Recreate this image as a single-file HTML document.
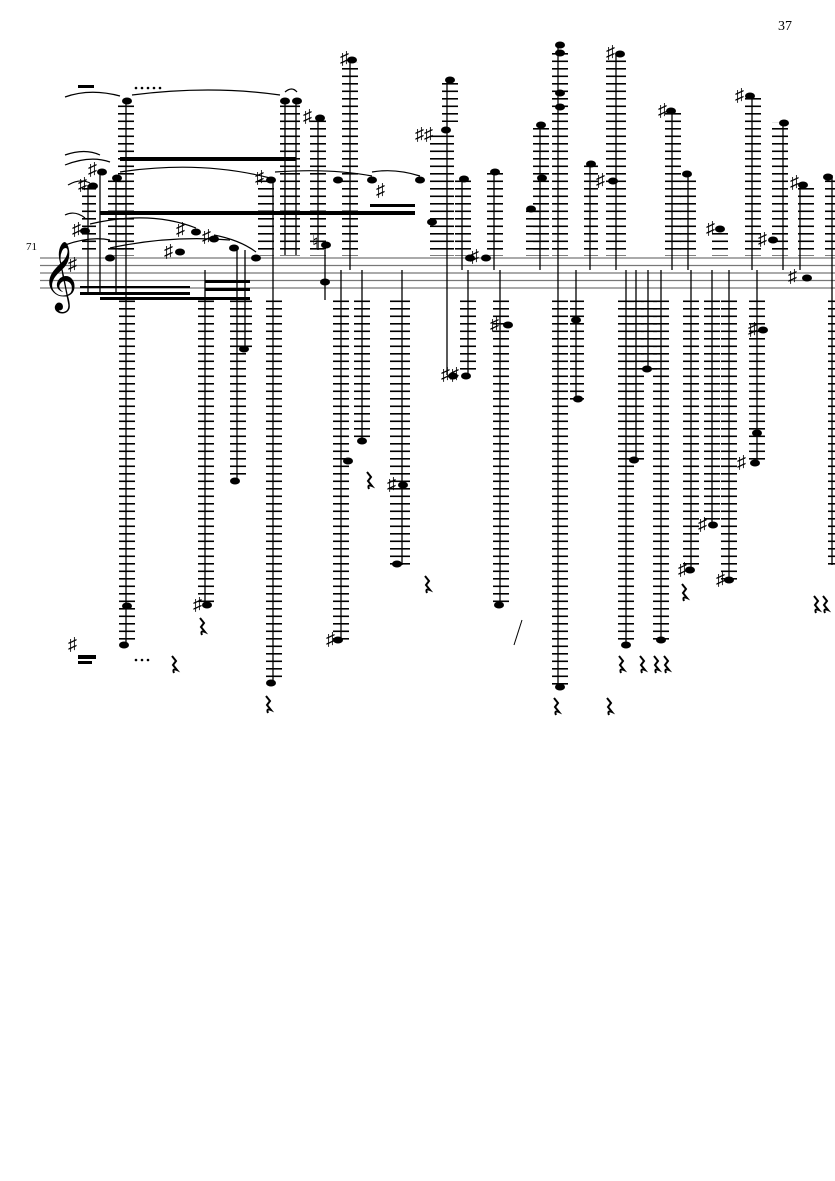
<!DOCTYPE html>
<html><head><meta charset="utf-8"><style>
html,body{margin:0;padding:0;background:#fff}
svg{display:block}
text{font-family:"Liberation Serif","DejaVu Serif",serif}
</style></head><body>
<svg width="835" height="1181" viewBox="0 0 835 1181" xmlns="http://www.w3.org/2000/svg">
<defs>
<pattern id="L" x="0" y="0.5" width="20" height="7.5" patternUnits="userSpaceOnUse">
<rect x="0" y="0" width="20" height="1.6" fill="#000"/>
</pattern>
<g id="R"><path d="M0 0 L4 5 L1 9 L5 14 Q0 12 2 17" fill="none" stroke="#000" stroke-width="2"/></g>
</defs>
<text x="778" y="30" font-size="14">37</text>
<text x="26" y="250" font-size="11">71</text>
<g stroke="#777" stroke-width="1.3">
<line x1="40" y1="258" x2="835" y2="258"/><line x1="40" y1="265.5" x2="835" y2="265.5"/>
<line x1="40" y1="273" x2="835" y2="273"/><line x1="40" y1="280.5" x2="835" y2="280.5"/>
<line x1="40" y1="288" x2="835" y2="288"/>
</g>
<text x="42" y="296" font-size="60">𝄞</text>
<g fill="url(#L)">
<rect x="118" y="103" width="16" height="153"/>
<rect x="82" y="185" width="14" height="70"/>
<rect x="108" y="178" width="16" height="78"/>
<rect x="280" y="103" width="20" height="153"/>
<rect x="310" y="120" width="16" height="136"/>
<rect x="258" y="180" width="16" height="76"/>
<rect x="342" y="62" width="16" height="194"/>
<rect x="430" y="135" width="24" height="121"/>
<rect x="442" y="82" width="16" height="40"/>
<rect x="455" y="180" width="16" height="76"/>
<rect x="487" y="172" width="16" height="84"/>
<rect x="526" y="210" width="14" height="46"/>
<rect x="533" y="125" width="16" height="131"/>
<rect x="552" y="48" width="16" height="208"/>
<rect x="584" y="165" width="14" height="91"/>
<rect x="606" y="55" width="20" height="201"/>
<rect x="665" y="112" width="16" height="144"/>
<rect x="680" y="175" width="16" height="81"/>
<rect x="712" y="230" width="16" height="26"/>
<rect x="745" y="97" width="16" height="159"/>
<rect x="772" y="122" width="16" height="134"/>
<rect x="798" y="185" width="16" height="71"/>
<rect x="825" y="175" width="12" height="81"/>
<rect x="119" y="295" width="16" height="350"/>
<rect x="198" y="295" width="16" height="310"/>
<rect x="230" y="295" width="16" height="185"/>
<rect x="238" y="295" width="14" height="55"/>
<rect x="266" y="295" width="16" height="388"/>
<rect x="333" y="295" width="16" height="345"/>
<rect x="354" y="295" width="16" height="147"/>
<rect x="390" y="295" width="20" height="272"/>
<rect x="460" y="295" width="16" height="80"/>
<rect x="493" y="295" width="16" height="310"/>
<rect x="552" y="295" width="16" height="392"/>
<rect x="570" y="295" width="14" height="105"/>
<rect x="618" y="295" width="16" height="350"/>
<rect x="628" y="295" width="16" height="165"/>
<rect x="641" y="295" width="16" height="75"/>
<rect x="653" y="295" width="16" height="345"/>
<rect x="683" y="295" width="16" height="275"/>
<rect x="704" y="295" width="16" height="230"/>
<rect x="721" y="295" width="16" height="285"/>
<rect x="749" y="295" width="16" height="170"/>
<rect x="828" y="295" width="10" height="270"/>
</g>
<g stroke="#000" stroke-width="1.3">
<line x1="126" y1="100" x2="126" y2="645"/>
<line x1="88" y1="185" x2="88" y2="295"/>
<line x1="100" y1="175" x2="100" y2="295"/>
<line x1="116" y1="178" x2="116" y2="295"/>
<line x1="205" y1="270" x2="205" y2="605"/>
<line x1="237" y1="250" x2="237" y2="480"/>
<line x1="245" y1="250" x2="245" y2="350"/>
<line x1="273" y1="180" x2="273" y2="683"/>
<line x1="285" y1="100" x2="285" y2="255"/>
<line x1="296" y1="100" x2="296" y2="255"/>
<line x1="318" y1="120" x2="318" y2="250"/>
<line x1="325" y1="250" x2="325" y2="300"/>
<line x1="341" y1="270" x2="341" y2="640"/>
<line x1="350" y1="62" x2="350" y2="270"/>
<line x1="362" y1="270" x2="362" y2="440"/>
<line x1="402" y1="270" x2="402" y2="565"/>
<line x1="447" y1="82" x2="447" y2="375"/>
<line x1="462" y1="180" x2="462" y2="270"/>
<line x1="468" y1="270" x2="468" y2="375"/>
<line x1="494" y1="172" x2="494" y2="270"/>
<line x1="500" y1="270" x2="500" y2="605"/>
<line x1="540" y1="125" x2="540" y2="270"/>
<line x1="558" y1="45" x2="558" y2="688"/>
<line x1="576" y1="270" x2="576" y2="400"/>
<line x1="590" y1="165" x2="590" y2="270"/>
<line x1="616" y1="55" x2="616" y2="270"/>
<line x1="626" y1="270" x2="626" y2="645"/>
<line x1="636" y1="270" x2="636" y2="460"/>
<line x1="648" y1="270" x2="648" y2="370"/>
<line x1="661" y1="270" x2="661" y2="640"/>
<line x1="672" y1="112" x2="672" y2="270"/>
<line x1="688" y1="175" x2="688" y2="270"/>
<line x1="691" y1="270" x2="691" y2="570"/>
<line x1="712" y1="270" x2="712" y2="525"/>
<line x1="729" y1="270" x2="729" y2="580"/>
<line x1="752" y1="97" x2="752" y2="270"/>
<line x1="757" y1="270" x2="757" y2="465"/>
<line x1="783" y1="122" x2="783" y2="270"/>
<line x1="800" y1="185" x2="800" y2="270"/>
<line x1="832" y1="175" x2="832" y2="565"/>
</g>
<g fill="#000">
<rect x="120" y="157" width="176" height="4"/>
<rect x="100" y="211" width="315" height="4"/>
<rect x="370" y="204" width="45" height="3"/>
<rect x="80" y="292" width="110" height="3"/>
<rect x="80" y="286" width="110" height="2"/>
<rect x="100" y="297" width="150" height="3"/>
<rect x="205" y="280" width="45" height="3"/>
<rect x="205" y="288" width="45" height="3"/>
</g>
<g fill="#000">
<ellipse cx="127" cy="101" rx="5" ry="3.5"/><ellipse cx="285" cy="101" rx="5" ry="3.5"/><ellipse cx="297" cy="101" rx="5" ry="3.5"/>
<ellipse cx="320" cy="118" rx="5" ry="3.5"/><ellipse cx="93" cy="186" rx="5" ry="3.5"/><ellipse cx="102" cy="172" rx="5" ry="3.5"/>
<ellipse cx="117" cy="178" rx="5" ry="3.5"/><ellipse cx="271" cy="180" rx="5" ry="3.5"/><ellipse cx="85" cy="231" rx="5" ry="3.5"/>
<ellipse cx="196" cy="232" rx="5" ry="3.5"/><ellipse cx="214" cy="239" rx="5" ry="3.5"/><ellipse cx="234" cy="248" rx="5" ry="3.5"/>
<ellipse cx="256" cy="258" rx="5" ry="3.5"/><ellipse cx="180" cy="252" rx="5" ry="3.5"/><ellipse cx="110" cy="258" rx="5" ry="3.5"/>
<ellipse cx="352" cy="60" rx="5" ry="3.5"/><ellipse cx="338" cy="180" rx="5" ry="3.5"/><ellipse cx="372" cy="180" rx="5" ry="3.5"/>
<ellipse cx="420" cy="180" rx="5" ry="3.5"/><ellipse cx="432" cy="222" rx="5" ry="3.5"/><ellipse cx="450" cy="80" rx="5" ry="3.5"/>
<ellipse cx="446" cy="130" rx="5" ry="3.5"/><ellipse cx="464" cy="179" rx="5" ry="3.5"/><ellipse cx="495" cy="172" rx="5" ry="3.5"/>
<ellipse cx="486" cy="258" rx="5" ry="3.5"/><ellipse cx="325" cy="282" rx="5" ry="3.5"/><ellipse cx="326" cy="245" rx="5" ry="3.5"/>
<ellipse cx="531" cy="209" rx="5" ry="3.5"/><ellipse cx="542" cy="178" rx="5" ry="3.5"/><ellipse cx="541" cy="125" rx="5" ry="3.5"/>
<ellipse cx="560" cy="45" rx="5" ry="3.5"/><ellipse cx="560" cy="53" rx="5" ry="3.5"/><ellipse cx="560" cy="93" rx="5" ry="3.5"/><ellipse cx="560" cy="107" rx="5" ry="3.5"/>
<ellipse cx="591" cy="164" rx="5" ry="3.5"/><ellipse cx="613" cy="181" rx="5" ry="3.5"/><ellipse cx="620" cy="54" rx="5" ry="3.5"/>
<ellipse cx="671" cy="111" rx="5" ry="3.5"/><ellipse cx="687" cy="174" rx="5" ry="3.5"/><ellipse cx="720" cy="229" rx="5" ry="3.5"/>
<ellipse cx="750" cy="96" rx="5" ry="3.5"/><ellipse cx="784" cy="123" rx="5" ry="3.5"/><ellipse cx="773" cy="240" rx="5" ry="3.5"/>
<ellipse cx="803" cy="185" rx="5" ry="3.5"/><ellipse cx="828" cy="177" rx="5" ry="3.5"/><ellipse cx="807" cy="278" rx="5" ry="3.5"/>
<ellipse cx="124" cy="645" rx="5" ry="3.5"/><ellipse cx="127" cy="606" rx="5" ry="3.5"/><ellipse cx="207" cy="605" rx="5" ry="3.5"/>
<ellipse cx="235" cy="481" rx="5" ry="3.5"/><ellipse cx="244" cy="349" rx="5" ry="3.5"/><ellipse cx="271" cy="683" rx="5" ry="3.5"/>
<ellipse cx="338" cy="640" rx="5" ry="3.5"/><ellipse cx="348" cy="461" rx="5" ry="3.5"/><ellipse cx="362" cy="441" rx="5" ry="3.5"/>
<ellipse cx="403" cy="485" rx="5" ry="3.5"/><ellipse cx="397" cy="564" rx="5" ry="3.5"/><ellipse cx="453" cy="376" rx="5" ry="3.5"/>
<ellipse cx="466" cy="376" rx="5" ry="3.5"/><ellipse cx="508" cy="325" rx="5" ry="3.5"/><ellipse cx="499" cy="605" rx="5" ry="3.5"/>
<ellipse cx="560" cy="687" rx="5" ry="3.5"/><ellipse cx="576" cy="320" rx="5" ry="3.5"/><ellipse cx="578" cy="399" rx="5" ry="3.5"/>
<ellipse cx="626" cy="645" rx="5" ry="3.5"/><ellipse cx="634" cy="460" rx="5" ry="3.5"/><ellipse cx="647" cy="369" rx="5" ry="3.5"/>
<ellipse cx="661" cy="640" rx="5" ry="3.5"/><ellipse cx="690" cy="570" rx="5" ry="3.5"/><ellipse cx="713" cy="525" rx="5" ry="3.5"/>
<ellipse cx="729" cy="580" rx="5" ry="3.5"/><ellipse cx="755" cy="463" rx="5" ry="3.5"/><ellipse cx="757" cy="433" rx="5" ry="3.5"/>
<ellipse cx="763" cy="330" rx="5" ry="3.5"/><ellipse cx="470" cy="258" rx="5" ry="3.5"/>
</g>
<g fill="none" stroke="#000" stroke-width="1.2">
<path d="M65 97 Q90 88 120 96"/><path d="M132 95 Q210 85 280 95"/><path d="M65 155 Q85 148 100 155"/>
<path d="M65 165 Q90 155 110 162"/><path d="M68 185 Q80 178 90 183"/><path d="M120 172 Q200 160 270 178"/>
<path d="M65 215 Q75 210 85 218"/><path d="M90 224 Q150 210 196 228"/><path d="M65 245 Q90 236 110 240"/>
<path d="M110 248 Q170 235 230 240"/><path d="M214 235 Q240 240 256 252"/><path d="M275 172 Q330 168 372 176"/><path d="M372 172 Q395 168 420 176"/>
<path d="M285 92 Q292 86 297 92"/>
</g>
<g font-size="18" fill="#000">
<text x="72" y="235">♯</text><text x="68" y="270">♯</text><text x="78" y="190">♯</text><text x="88" y="175">♯</text>
<text x="164" y="257">♯</text><text x="176" y="235">♯</text><text x="202" y="242">♯</text><text x="255" y="183">♯</text>
<text x="303" y="122">♯</text><text x="340" y="64">♯</text><text x="312" y="248">♮</text><text x="376" y="196">♯</text>
<text x="415" y="140">♯♯</text><text x="470" y="262">♯</text><text x="490" y="330">♯</text><text x="441" y="380">♯♯</text>
<text x="596" y="186">♯</text><text x="606" y="58">♯</text><text x="658" y="116">♯</text><text x="706" y="234">♯</text>
<text x="735" y="101">♯</text><text x="758" y="245">♯</text><text x="790" y="188">♯</text><text x="788" y="282">♯</text>
<text x="748" y="335">♯</text><text x="387" y="490">♯</text><text x="193" y="610">♯</text><text x="326" y="645">♯</text>
<text x="678" y="575">♯</text><text x="698" y="530">♯</text><text x="716" y="585">♯</text><text x="737" y="468">♯</text>
<text x="68" y="650">♯</text>
</g>
<use href="#R" x="367" y="472"/><use href="#R" x="425" y="576"/><use href="#R" x="200" y="618"/><use href="#R" x="172" y="656"/>
<use href="#R" x="266" y="696"/><use href="#R" x="554" y="698"/><use href="#R" x="607" y="698"/><use href="#R" x="619" y="656"/>
<use href="#R" x="640" y="656"/><use href="#R" x="654" y="656"/><use href="#R" x="664" y="656"/><use href="#R" x="682" y="584"/>
<use href="#R" x="814" y="596"/><use href="#R" x="823" y="596"/>
<g fill="#000">
<rect x="78" y="85" width="16" height="3"/>
<circle cx="136" cy="88" r="1.3"/><circle cx="142" cy="88" r="1.3"/><circle cx="148" cy="88" r="1.3"/><circle cx="154" cy="88" r="1.3"/><circle cx="160" cy="88" r="1.3"/>
<circle cx="136" cy="660" r="1.3"/><circle cx="142" cy="660" r="1.3"/><circle cx="148" cy="660" r="1.3"/>
<rect x="78" y="655" width="18" height="4"/><rect x="78" y="661" width="14" height="3"/>
</g>
<line x1="514" y1="645" x2="522" y2="620" stroke="#000" stroke-width="1"/>
</svg>
</body></html>
